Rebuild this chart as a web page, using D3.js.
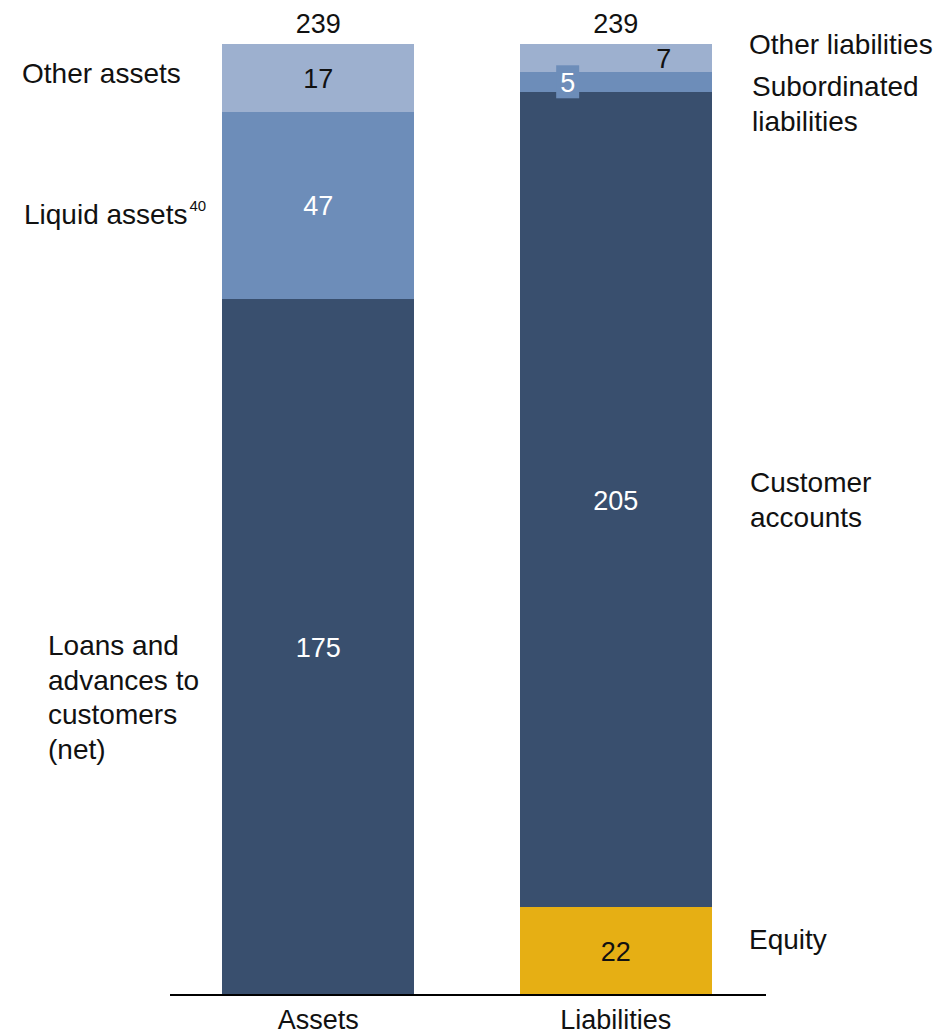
<!DOCTYPE html>
<html>
<head>
<meta charset="utf-8">
<script src="https://cdn.jsdelivr.net/npm/d3@7"></script>
<style>
  html, body { margin: 0; padding: 0; background: #fff; }
  svg { display: block; font-family: "Liberation Sans", Arial, sans-serif; }
</style>
</head>
<body>
<svg id="chart" width="936" height="1034"></svg>
<script>
// Balance sheet composition (bn)
const categories = ["Assets", "Liabilities"];
const assetItems = ["Loans and advances to customers (net)", "Liquid assets", "Other assets"];
const assetValues = [175, 47, 17];
const liabilityItems = ["Equity", "Customer accounts", "Subordinated liabilities", "Other liabilities"];
const liabilityValues = [22, 205, 5, 7];
const totals = [239, 239];

const colors = {
  dark: "#394f6e",
  mid: "#6d8db9",
  light: "#9db0cf",
  gold: "#e6af14"
};

const FS = 27;       // numbers and category names
const LABEL_FS = 28; // side labels
const svg = d3.select("#chart");
const baseY = 995, topY = 44;

// Bars: 192px wide, 297px step
const x = d3.scaleBand().domain(categories).range([168.5, 765.5]).paddingInner(0.3535).paddingOuter(0.18);
const y = d3.scaleLinear().domain([0, 239]).range([baseY, topY]);

function stack(values) {
  let acc = 0;
  return values.map(v => { const s = { y0: acc, y1: acc + v, v }; acc += v; return s; });
}

const assetSegs = stack(assetValues).map((s, i) => ({
  ...s, cat: "Assets", fill: [colors.dark, colors.mid, colors.light][i],
  text: ["#fff", "#fff", "#111"][i], name: assetItems[i]
}));
const liabSegs = stack(liabilityValues).map((s, i) => ({
  ...s, cat: "Liabilities", fill: [colors.gold, colors.dark, colors.mid, colors.light][i],
  text: ["#111", "#fff", "#fff", "#111"][i], name: liabilityItems[i]
}));
const segs = assetSegs.concat(liabSegs);

svg.append("g").selectAll("rect").data(segs).join("rect")
  .attr("x", d => x(d.cat))
  .attr("width", x.bandwidth())
  .attr("y", d => y(d.y1))
  .attr("height", d => y(d.y0) - y(d.y1))
  .attr("fill", d => d.fill)
  .attr("shape-rendering", "crispEdges");

// Baseline axis
const axis = svg.append("g").attr("transform", `translate(0,${baseY})`)
  .call(d3.axisBottom(x).tickSize(0).tickPadding(0));
axis.select(".domain").remove();
axis.append("line").attr("x1", 170).attr("x2", 766).attr("stroke", "#000").attr("stroke-width", 2);
axis.selectAll(".tick text").attr("font-size", FS).attr("fill", "#111")
  .attr("font-family", "Liberation Sans, Arial, sans-serif")
  .attr("y", 34).attr("dy", null).attr("dominant-baseline", "auto");

// Totals above bars
svg.append("g").selectAll("text").data(categories).join("text")
  .attr("x", d => x(d) + x.bandwidth() / 2)
  .attr("y", y(239) - 20)
  .attr("text-anchor", "middle").attr("dominant-baseline", "central")
  .attr("font-size", FS).attr("fill", "#111")
  .text((d, i) => totals[i]);

// Value labels inside segments
const vl = svg.append("g");
segs.forEach(d => {
  let cx = x(d.cat) + x.bandwidth() / 2;
  const cy = (y(d.y0) + y(d.y1)) / 2;
  if (d.name === "Other liabilities") cx = x(d.cat) + x.bandwidth() * 0.75;
  if (d.name === "Subordinated liabilities") {
    cx = x(d.cat) + x.bandwidth() * 0.25;
    vl.append("rect").attr("x", cx - 11.5).attr("y", cy - 16.5)
      .attr("width", 23).attr("height", 33).attr("fill", colors.mid);
  }
  vl.append("text").attr("x", cx).attr("y", cy + 1)
    .attr("text-anchor", "middle").attr("dominant-baseline", "central")
    .attr("font-size", FS).attr("fill", d.text).text(d.v);
});

// Side labels
const sideLabels = [
  { lines: ["Other assets"], x: 22, y: 73 },
  { lines: ["Liquid assets"], sup: "40", x: 24, y: 214 },
  { lines: ["Loans and", "advances to", "customers", "(net)"], x: 48, y: 645 },
  { lines: ["Other liabilities"], x: 749, y: 44 },
  { lines: ["Subordinated", "liabilities"], x: 752, y: 86 },
  { lines: ["Customer", "accounts"], x: 750, y: 482 },
  { lines: ["Equity"], x: 749, y: 939 }
];
const sl = svg.append("g");
sideLabels.forEach(l => {
  const t = sl.append("text").attr("x", l.x).attr("y", l.y)
    .attr("font-size", LABEL_FS).attr("fill", "#111").attr("dominant-baseline", "central");
  l.lines.forEach((line, i) => {
    t.append("tspan").attr("x", l.x).attr("y", l.y + i * 34.5).text(line);
  });
  if (l.sup) {
    t.append("tspan").attr("dy", -9).attr("dx", 2).attr("font-size", 15).text(l.sup);
  }
});
</script>
</body>
</html>
